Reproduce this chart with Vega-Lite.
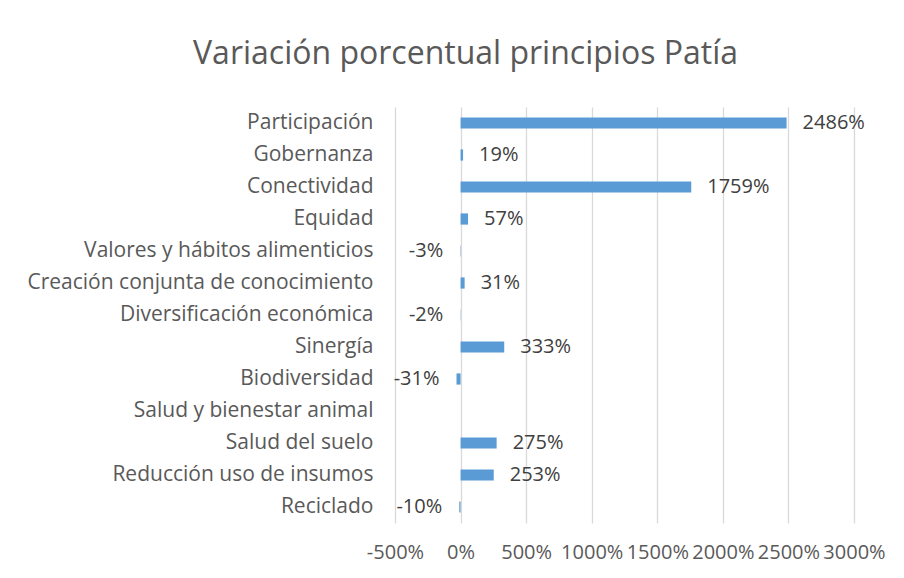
{
  "$schema": "https://vega.github.io/schema/vega-lite/v6.json",
  "autosize": {"type": "none"},
  "padding": {"left": 395, "top": 107, "right": 50, "bottom": 55},
  "width": 459,
  "height": 416,
  "background": "white",
  "config": {
    "font": "Open Sans",
    "view": {"stroke": null},
    "locale": {
      "number": {"decimal": ".", "thousands": ",", "grouping": [3], "currency": ["$", ""], "minus": "-"}
    }
  },
  "title": {
    "text": "Variación porcentual principios Patía",
    "font": "Open Sans",
    "fontSize": 32,
    "fontWeight": "normal",
    "color": "#595959",
    "anchor": "middle",
    "frame": "group",
    "baseline": "alphabetic",
    "offset": 37,
    "dx": -159,
    "dy": 26
  },
  "data": {
    "values": [
      {"principio": "Participación", "valor": 24.86},
      {"principio": "Gobernanza", "valor": 0.19},
      {"principio": "Conectividad", "valor": 17.59},
      {"principio": "Equidad", "valor": 0.57},
      {"principio": "Valores y hábitos alimenticios", "valor": -0.03},
      {"principio": "Creación conjunta de conocimiento", "valor": 0.31},
      {"principio": "Diversificación económica", "valor": -0.02},
      {"principio": "Sinergía", "valor": 3.33},
      {"principio": "Biodiversidad", "valor": -0.31},
      {"principio": "Salud y bienestar animal", "valor": null},
      {"principio": "Salud del suelo", "valor": 2.75},
      {"principio": "Reducción uso de insumos", "valor": 2.53},
      {"principio": "Reciclado", "valor": -0.10}
    ]
  },
  "encoding": {
    "y": {
      "field": "principio",
      "type": "nominal",
      "sort": null,
      "scale": {
        "domain": ["Participación", "Gobernanza", "Conectividad", "Equidad", "Valores y hábitos alimenticios", "Creación conjunta de conocimiento", "Diversificación económica", "Sinergía", "Biodiversidad", "Salud y bienestar animal", "Salud del suelo", "Reducción uso de insumos", "Reciclado"],
        "paddingInner": 0.65,
        "paddingOuter": 0.325
      },
      "axis": {
        "title": null,
        "ticks": false,
        "domain": false,
        "labelFont": "Open Sans",
        "labelFontSize": 21,
        "labelColor": "#595959",
        "labelPadding": 22,
        "labelLimit": 400
      }
    },
    "x": {
      "field": "valor",
      "type": "quantitative",
      "scale": {"domain": [-5, 30], "nice": false, "zero": false},
      "axis": {
        "title": null,
        "values": [-5, 0, 5, 10, 15, 20, 25, 30],
        "format": ".0%",
        "ticks": false,
        "domain": false,
        "grid": true,
        "gridColor": "#d9d9d9",
        "gridWidth": 1.3,
        "labelFont": "Open Sans",
        "labelFontSize": 20,
        "labelColor": "#595959",
        "labelPadding": 19,
        "labelOverlap": false,
        "labelFlush": false,
        "labelBound": false
      }
    }
  },
  "layer": [
    {
      "mark": {"type": "bar", "color": "#5b9bd5"}
    },
    {
      "transform": [{"filter": "datum.valor != null && datum.valor >= 0"}],
      "mark": {"type": "text", "align": "left", "dx": 16, "fontSize": 20, "color": "#404040", "font": "Open Sans"},
      "encoding": {"text": {"field": "valor", "type": "quantitative", "format": ".0%"}}
    },
    {
      "transform": [{"filter": "datum.valor != null && datum.valor < 0"}],
      "mark": {"type": "text", "align": "right", "dx": -17, "fontSize": 20, "color": "#404040", "font": "Open Sans"},
      "encoding": {"text": {"field": "valor", "type": "quantitative", "format": ".0%"}}
    }
  ]
}
